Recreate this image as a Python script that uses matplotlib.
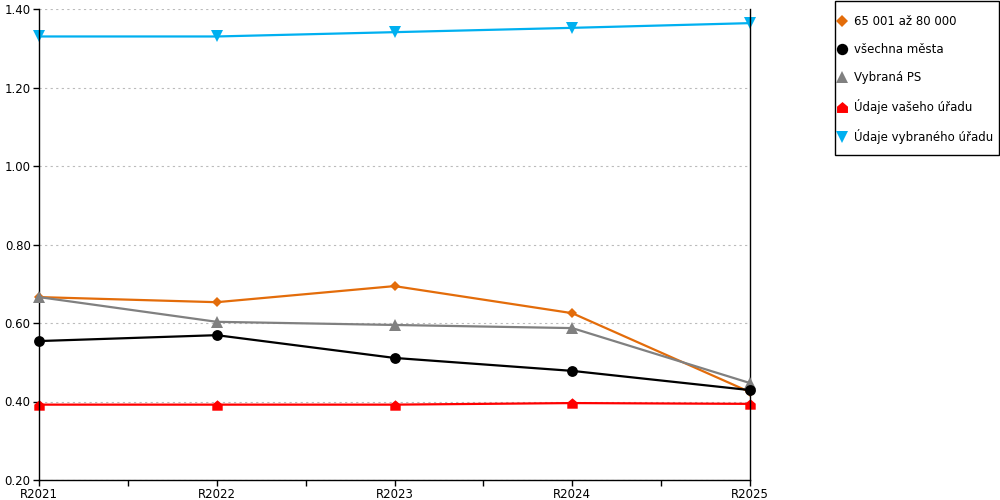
import matplotlib
matplotlib.use("Agg")
import matplotlib.pyplot as plt
from matplotlib.lines import Line2D
from matplotlib.patches import Rectangle
from matplotlib.path import Path
import numpy as np

years = ["R2021", "R2022", "R2023", "R2024", "R2025"]

kat_65_80 = [0.666, 0.653, 0.694, 0.625, 0.424]
vsechna_mesta = [0.554, 0.569, 0.511, 0.478, 0.429]
vybrana_ps = [0.666, 0.603, 0.595, 0.587, 0.447]
vas_urad = [0.392, 0.392, 0.392, 0.396, 0.394]
vybrany_urad = [1.330, 1.330, 1.341, 1.352, 1.364]

labels = ["65 001 až 80 000", "všechna města", "Vybraná PS",
          "Údaje vašeho úřadu", "Údaje vybraného úřadu"]

# house shaped marker for the red series
house = Path([(-1, -1), (1, -1), (1, 0.15), (0, 1), (-1, 0.15), (-1, -1)],
             [Path.MOVETO] + [Path.LINETO] * 4 + [Path.CLOSEPOLY])

series = [
    (kat_65_80, "#e36c0a", "D", 5.5, 2),
    (vsechna_mesta, "#000000", "o", 7.8, 4),
    (vybrana_ps, "#808080", "^", 8, 3),
    (vas_urad, "#ff0000", house, 7.5, 2),
    (vybrany_urad, "#00b0f0", "v", 8, 2),
]

plt.rcParams['font.family'] = ['DejaVu Sans']
fig = plt.figure(figsize=(10, 5), dpi=100)
ax = fig.add_axes([0.039, 0.04, 0.711, 0.942])

x = np.arange(len(years))
handles = []
for (vals, col, mk, ms, z), lab in zip(series, labels):
    ax.plot(x, vals, color=col, lw=1.6, marker=mk, markersize=ms,
            markeredgewidth=0, zorder=z, clip_on=False)
    handles.append(Line2D([], [], color=col, marker=mk, linestyle='None',
                          markersize=ms * 1.05, markeredgewidth=0))

ax.set_xlim(0, 4)
ax.set_ylim(0.2, 1.4)
ax.set_yticks(np.arange(0.2, 1.41, 0.2))
ax.set_yticklabels(["%.2f" % v for v in np.arange(0.2, 1.41, 0.2)])
ax.set_xticks(x)
ax.set_xticklabels(years)
ax.set_xticks(x[:-1] + 0.5, minor=True)
ax.tick_params(axis='both', labelsize=8.5, direction='out', length=4, width=1, pad=2)
ax.tick_params(axis='x', which='minor', length=4, width=1)
ax.yaxis.grid(True, linestyle=(0, (2, 3)), color='#bbbbbb', linewidth=0.8)
ax.set_axisbelow(True)

ax.spines['top'].set_visible(False)
for s in ['left', 'bottom', 'right']:
    ax.spines[s].set_color('black')
    ax.spines[s].set_linewidth(1)

# legend without its own frame, box drawn separately (tighter side padding)
leg = fig.legend(handles, labels, loc='upper left', bbox_to_anchor=(0.8395, 0.970),
                 fontsize=8.5, frameon=False,
                 handlelength=0.4, handletextpad=0.85, labelspacing=1.28,
                 borderpad=0, borderaxespad=0)
fig.patches.append(Rectangle((0.835, 0.69), 0.164, 0.308, transform=fig.transFigure,
                             fill=False, edgecolor='black', linewidth=1))

fig.savefig("out.png", dpi=100)
